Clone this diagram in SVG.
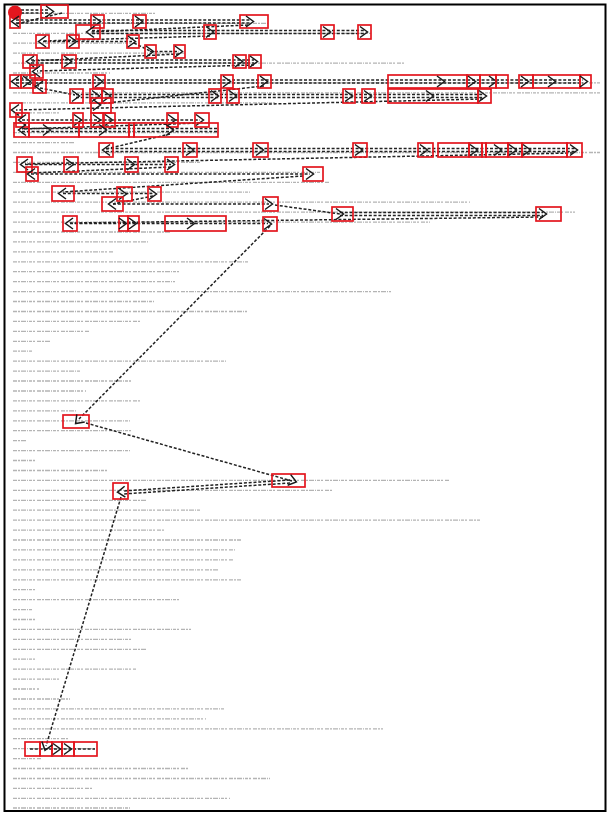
<svg xmlns="http://www.w3.org/2000/svg" width="610" height="814" viewBox="0 0 610 814">
<style>
.b{fill:none;stroke:#e3161e;stroke-width:1.7}
.c{fill:none;stroke:#1a1a1a;stroke-width:1.5;stroke-linejoin:miter}
.k{fill:none;stroke:#222;stroke-width:1.5;stroke-dasharray:3 1.8}
.t{stroke:#b4b4b4;stroke-width:1.3;stroke-dasharray:4 1 2 1 5 1 1 1 3 1 2 2}
</style>
<defs>
<path id="gt" class="c" d="M-4,-5.5 L3.5,0 L-4,5.5"/>
<path id="lt" class="c" d="M4,-5.5 L-3.5,0 L4,5.5"/>
</defs>
<rect x="0" y="0" width="610" height="814" fill="#fff"/>
<rect x="4.5" y="4.5" width="601" height="806.5" fill="none" stroke="#000" stroke-width="2"/>
<g id="text-lines">
<line class="t" x1="13" y1="13.4" x2="155" y2="13.4"/>
<line class="t" x1="13" y1="23.3" x2="268" y2="23.3"/>
<line class="t" x1="13" y1="33.3" x2="372" y2="33.3"/>
<line class="t" x1="13" y1="43.2" x2="140" y2="43.2"/>
<line class="t" x1="13" y1="53.1" x2="186" y2="53.1"/>
<line class="t" x1="13" y1="63.1" x2="405" y2="63.1"/>
<line class="t" x1="13" y1="73.0" x2="110" y2="73.0"/>
<line class="t" x1="13" y1="82.9" x2="600" y2="82.9"/>
<line class="t" x1="13" y1="92.9" x2="600" y2="92.9"/>
<line class="t" x1="13" y1="102.8" x2="276" y2="102.8"/>
<line class="t" x1="13" y1="112.8" x2="60" y2="112.8"/>
<line class="t" x1="13" y1="122.7" x2="210" y2="122.7"/>
<line class="t" x1="13" y1="132.6" x2="218" y2="132.6"/>
<line class="t" x1="13" y1="142.6" x2="75" y2="142.6"/>
<line class="t" x1="13" y1="152.5" x2="600" y2="152.5"/>
<line class="t" x1="13" y1="162.4" x2="200" y2="162.4"/>
<line class="t" x1="13" y1="172.4" x2="320" y2="172.4"/>
<line class="t" x1="13" y1="182.3" x2="330" y2="182.3"/>
<line class="t" x1="13" y1="192.2" x2="250" y2="192.2"/>
<line class="t" x1="13" y1="202.2" x2="470" y2="202.2"/>
<line class="t" x1="13" y1="212.1" x2="575" y2="212.1"/>
<line class="t" x1="13" y1="222.1" x2="430" y2="222.1"/>
<line class="t" x1="13" y1="232.0" x2="171" y2="232.0"/>
<line class="t" x1="13" y1="241.9" x2="148" y2="241.9"/>
<line class="t" x1="13" y1="251.9" x2="113" y2="251.9"/>
<line class="t" x1="13" y1="261.8" x2="249" y2="261.8"/>
<line class="t" x1="13" y1="271.7" x2="181" y2="271.7"/>
<line class="t" x1="13" y1="281.7" x2="175" y2="281.7"/>
<line class="t" x1="13" y1="291.6" x2="391" y2="291.6"/>
<line class="t" x1="13" y1="301.5" x2="154" y2="301.5"/>
<line class="t" x1="13" y1="311.5" x2="247" y2="311.5"/>
<line class="t" x1="13" y1="321.4" x2="140" y2="321.4"/>
<line class="t" x1="13" y1="331.4" x2="89" y2="331.4"/>
<line class="t" x1="13" y1="341.3" x2="51" y2="341.3"/>
<line class="t" x1="13" y1="351.2" x2="33" y2="351.2"/>
<line class="t" x1="13" y1="361.2" x2="226" y2="361.2"/>
<line class="t" x1="13" y1="371.1" x2="80" y2="371.1"/>
<line class="t" x1="13" y1="381.0" x2="132" y2="381.0"/>
<line class="t" x1="13" y1="391.0" x2="86" y2="391.0"/>
<line class="t" x1="13" y1="400.9" x2="140" y2="400.9"/>
<line class="t" x1="13" y1="410.8" x2="76" y2="410.8"/>
<line class="t" x1="13" y1="420.8" x2="130" y2="420.8"/>
<line class="t" x1="13" y1="430.7" x2="132" y2="430.7"/>
<line class="t" x1="13" y1="440.6" x2="27" y2="440.6"/>
<line class="t" x1="13" y1="450.6" x2="130" y2="450.6"/>
<line class="t" x1="13" y1="460.5" x2="37" y2="460.5"/>
<line class="t" x1="13" y1="470.5" x2="107" y2="470.5"/>
<line class="t" x1="13" y1="480.4" x2="449" y2="480.4"/>
<line class="t" x1="13" y1="490.3" x2="333" y2="490.3"/>
<line class="t" x1="13" y1="500.3" x2="146" y2="500.3"/>
<line class="t" x1="13" y1="510.2" x2="200" y2="510.2"/>
<line class="t" x1="13" y1="520.1" x2="480" y2="520.1"/>
<line class="t" x1="13" y1="530.1" x2="165" y2="530.1"/>
<line class="t" x1="13" y1="540.0" x2="241" y2="540.0"/>
<line class="t" x1="13" y1="549.9" x2="235" y2="549.9"/>
<line class="t" x1="13" y1="559.9" x2="233" y2="559.9"/>
<line class="t" x1="13" y1="569.8" x2="218" y2="569.8"/>
<line class="t" x1="13" y1="579.8" x2="241" y2="579.8"/>
<line class="t" x1="13" y1="589.7" x2="37" y2="589.7"/>
<line class="t" x1="13" y1="599.6" x2="181" y2="599.6"/>
<line class="t" x1="13" y1="609.6" x2="33" y2="609.6"/>
<line class="t" x1="13" y1="619.5" x2="37" y2="619.5"/>
<line class="t" x1="13" y1="629.4" x2="191" y2="629.4"/>
<line class="t" x1="13" y1="639.4" x2="132" y2="639.4"/>
<line class="t" x1="13" y1="649.3" x2="146" y2="649.3"/>
<line class="t" x1="13" y1="659.2" x2="37" y2="659.2"/>
<line class="t" x1="13" y1="669.2" x2="136" y2="669.2"/>
<line class="t" x1="13" y1="679.1" x2="60" y2="679.1"/>
<line class="t" x1="13" y1="689.0" x2="39" y2="689.0"/>
<line class="t" x1="13" y1="699.0" x2="70" y2="699.0"/>
<line class="t" x1="13" y1="708.9" x2="224" y2="708.9"/>
<line class="t" x1="13" y1="718.9" x2="206" y2="718.9"/>
<line class="t" x1="13" y1="728.8" x2="383" y2="728.8"/>
<line class="t" x1="13" y1="738.7" x2="68" y2="738.7"/>
<line class="t" x1="13" y1="748.7" x2="95" y2="748.7"/>
<line class="t" x1="13" y1="758.6" x2="41" y2="758.6"/>
<line class="t" x1="13" y1="768.5" x2="189" y2="768.5"/>
<line class="t" x1="13" y1="778.5" x2="270" y2="778.5"/>
<line class="t" x1="13" y1="788.4" x2="93" y2="788.4"/>
<line class="t" x1="13" y1="798.3" x2="230" y2="798.3"/>
<line class="t" x1="13" y1="808.0" x2="130" y2="808.0"/>
</g>
<g id="connectors">
<line class="k" x1="21" y1="10" x2="49" y2="10"/>
<line class="k" x1="21" y1="13" x2="49" y2="13"/>
<line class="k" x1="62" y1="13" x2="16" y2="24"/>
<line class="k" x1="16" y1="20" x2="250" y2="20"/>
<line class="k" x1="16" y1="23" x2="250" y2="23"/>
<line class="k" x1="248" y1="25" x2="91" y2="32"/>
<line class="k" x1="92" y1="30.5" x2="364" y2="30.5"/>
<line class="k" x1="92" y1="33.5" x2="364" y2="33.5"/>
<line class="k" x1="210" y1="36" x2="43" y2="41"/>
<line class="k" x1="43" y1="41.5" x2="132" y2="41.5"/>
<line class="k" x1="134" y1="43" x2="150" y2="51"/>
<line class="k" x1="150" y1="51.5" x2="179" y2="51.5"/>
<line class="k" x1="179" y1="54" x2="31" y2="61"/>
<line class="k" x1="31" y1="60" x2="254" y2="60"/>
<line class="k" x1="31" y1="63" x2="254" y2="63"/>
<line class="k" x1="254" y1="65" x2="37" y2="71"/>
<line class="k" x1="37" y1="74" x2="16" y2="80"/>
<line class="k" x1="16" y1="80" x2="583" y2="80"/>
<line class="k" x1="16" y1="83" x2="583" y2="83"/>
<line class="k" x1="28" y1="84" x2="39" y2="86"/>
<line class="k" x1="40" y1="88" x2="75" y2="95"/>
<line class="k" x1="76" y1="94.5" x2="483" y2="94.5"/>
<line class="k" x1="76" y1="97.5" x2="483" y2="97.5"/>
<line class="k" x1="264" y1="86" x2="98" y2="104"/>
<line class="k" x1="483" y1="99" x2="16" y2="110"/>
<line class="k" x1="16" y1="113" x2="22" y2="119"/>
<line class="k" x1="22" y1="120" x2="200" y2="120"/>
<line class="k" x1="200" y1="123" x2="22" y2="129"/>
<line class="k" x1="22" y1="128.5" x2="218" y2="128.5"/>
<line class="k" x1="22" y1="131.5" x2="218" y2="131.5"/>
<line class="k" x1="170" y1="134" x2="106" y2="149"/>
<line class="k" x1="106" y1="148.5" x2="575" y2="148.5"/>
<line class="k" x1="106" y1="151.5" x2="575" y2="151.5"/>
<line class="k" x1="573" y1="153" x2="25" y2="164"/>
<line class="k" x1="25" y1="164.5" x2="171" y2="164.5"/>
<line class="k" x1="171" y1="167" x2="31" y2="173"/>
<line class="k" x1="31" y1="174" x2="310" y2="174"/>
<line class="k" x1="303" y1="176" x2="63" y2="192"/>
<line class="k" x1="63" y1="193.5" x2="153" y2="193.5"/>
<line class="k" x1="153" y1="196" x2="113" y2="204"/>
<line class="k" x1="113" y1="204" x2="269" y2="204"/>
<line class="k" x1="275" y1="205" x2="340" y2="214"/>
<line class="k" x1="340" y1="212.5" x2="543" y2="212.5"/>
<line class="k" x1="340" y1="215.5" x2="543" y2="215.5"/>
<line class="k" x1="543" y1="217" x2="70" y2="223"/>
<line class="k" x1="70" y1="223.5" x2="268" y2="223.5"/>
<line class="k" x1="270" y1="226" x2="79" y2="419"/>
<line class="k" x1="86" y1="423" x2="292" y2="481"/>
<line class="k" x1="290" y1="480" x2="123" y2="491"/>
<line class="k" x1="290" y1="483" x2="123" y2="494"/>
<line class="k" x1="121" y1="497" x2="46" y2="746"/>
<line class="k" x1="30" y1="749" x2="95" y2="749"/>
</g>
<g id="n-start"><circle cx="15" cy="12.5" r="7" fill="#e3161e"/></g>
<g id="n-a0"><rect class="b" x="41" y="5" width="27" height="13"/><use href="#gt" x="50" y="11.5"/></g>
<g id="n-b1"><rect class="b" x="10" y="15" width="10" height="13"/><use href="#lt" x="15" y="21.5"/></g>
<g id="n-b2"><rect class="b" x="91" y="15" width="13" height="13"/><use href="#gt" x="97" y="21.5"/></g>
<g id="n-b3"><rect class="b" x="133" y="15" width="13" height="13"/><use href="#gt" x="139" y="21.5"/></g>
<g id="n-b4"><rect class="b" x="240" y="15" width="28" height="13"/><use href="#gt" x="250" y="21.5"/></g>
<g id="n-c1"><rect class="b" x="76" y="25" width="24" height="14"/><use href="#lt" x="90" y="32"/></g>
<g id="n-c2"><rect class="b" x="204" y="25" width="12" height="14"/><use href="#gt" x="210" y="32"/></g>
<g id="n-c3"><rect class="b" x="321" y="25" width="13" height="14"/><use href="#gt" x="327" y="32"/></g>
<g id="n-c4"><rect class="b" x="358" y="25" width="13" height="14"/><use href="#gt" x="364" y="32"/></g>
<g id="n-d1"><rect class="b" x="36" y="35" width="13" height="13"/><use href="#lt" x="42" y="41.5"/></g>
<g id="n-d2"><rect class="b" x="67" y="35" width="12" height="13"/><use href="#gt" x="73" y="41.5"/></g>
<g id="n-d3"><rect class="b" x="127" y="35" width="12" height="13"/><use href="#gt" x="132" y="41.5"/></g>
<g id="n-e1"><rect class="b" x="145" y="45" width="11" height="13"/><use href="#gt" x="150" y="51.5"/></g>
<g id="n-e2"><rect class="b" x="174" y="45" width="11" height="13"/><use href="#gt" x="179" y="51.5"/></g>
<g id="n-f1"><rect class="b" x="23" y="55" width="14" height="13"/><use href="#lt" x="30" y="61.5"/></g>
<g id="n-f2"><rect class="b" x="62" y="55" width="14" height="13"/><use href="#gt" x="68" y="61.5"/></g>
<g id="n-f3"><rect class="b" x="233" y="55" width="13" height="13"/><use href="#gt" x="239" y="61.5"/></g>
<g id="n-f4"><rect class="b" x="249" y="55" width="12" height="13"/><use href="#gt" x="254" y="61.5"/></g>
<g id="n-g1"><rect class="b" x="30" y="65" width="13" height="13"/><use href="#lt" x="36" y="71.5"/></g>
<g id="n-h1"><rect class="b" x="10" y="75" width="11" height="13"/><use href="#lt" x="15" y="81.5"/></g>
<g id="n-h2"><rect class="b" x="21" y="75" width="14" height="13"/><use href="#gt" x="27" y="81.5"/></g>
<g id="n-h3"><rect class="b" x="93" y="75" width="12" height="13"/><use href="#gt" x="99" y="81.5"/></g>
<g id="n-h4"><rect class="b" x="221" y="75" width="12" height="13"/><use href="#gt" x="227" y="81.5"/></g>
<g id="n-h5"><rect class="b" x="258" y="75" width="13" height="13"/><use href="#gt" x="264" y="81.5"/></g>
<g id="n-h6"><rect class="b" x="388" y="75" width="79" height="13"/><use href="#gt" x="441" y="81.5"/></g>
<g id="n-h7"><rect class="b" x="467" y="75" width="13" height="13"/><use href="#gt" x="472" y="81.5"/></g>
<g id="n-h8"><rect class="b" x="480" y="75" width="16" height="13"/><use href="#gt" x="493" y="81.5"/></g>
<g id="n-h9"><rect class="b" x="496" y="75" width="12" height="13"/></g>
<g id="n-h10"><rect class="b" x="519" y="75" width="14" height="13"/><use href="#gt" x="525" y="81.5"/></g>
<g id="n-h11"><rect class="b" x="533" y="75" width="47" height="13"/><use href="#gt" x="552" y="81.5"/></g>
<g id="n-h12"><rect class="b" x="580" y="75" width="11" height="13"/><use href="#gt" x="584" y="81.5"/></g>
<g id="n-h13"><rect class="b" x="33" y="80" width="13" height="13"/><use href="#lt" x="39" y="86.5"/></g>
<g id="n-i1"><rect class="b" x="70" y="89" width="13" height="14"/><use href="#gt" x="76" y="96"/></g>
<g id="n-i2"><rect class="b" x="90" y="89" width="12" height="14"/><use href="#gt" x="96" y="96"/></g>
<g id="n-i3"><rect class="b" x="102" y="89" width="11" height="14"/><use href="#gt" x="107" y="96"/></g>
<g id="n-i4"><rect class="b" x="209" y="89" width="12" height="14"/><use href="#gt" x="215" y="96"/></g>
<g id="n-i5"><rect class="b" x="227" y="89" width="12" height="14"/><use href="#gt" x="233" y="96"/></g>
<g id="n-i6"><rect class="b" x="343" y="89" width="12" height="14"/><use href="#gt" x="349" y="96"/></g>
<g id="n-i7"><rect class="b" x="362" y="89" width="13" height="14"/><use href="#gt" x="368" y="96"/></g>
<g id="n-i8"><rect class="b" x="388" y="89" width="90" height="14"/><use href="#gt" x="430" y="96"/></g>
<g id="n-i9"><rect class="b" x="478" y="89" width="13" height="14"/><use href="#gt" x="483" y="96"/></g>
<g id="n-j1"><rect class="b" x="91" y="98" width="20" height="15"/><use href="#gt" x="97" y="105"/></g>
<g id="n-k1"><rect class="b" x="10" y="103" width="12" height="14"/><use href="#lt" x="15" y="110"/></g>
<g id="n-l1"><rect class="b" x="16" y="113" width="13" height="14"/><use href="#lt" x="22" y="120"/></g>
<g id="n-l2"><rect class="b" x="73" y="113" width="10" height="14"/><use href="#gt" x="78" y="120"/></g>
<g id="n-l3"><rect class="b" x="91" y="113" width="12" height="14"/><use href="#gt" x="97" y="120"/></g>
<g id="n-l4"><rect class="b" x="104" y="113" width="11" height="14"/><use href="#gt" x="109" y="120"/></g>
<g id="n-l5"><rect class="b" x="167" y="113" width="11" height="14"/><use href="#gt" x="172" y="120"/></g>
<g id="n-l6"><rect class="b" x="195" y="113" width="14" height="14"/><use href="#gt" x="200" y="120"/></g>
<g id="n-m1"><rect class="b" x="14" y="123" width="15" height="14"/><use href="#lt" x="22" y="130"/></g>
<g id="n-m2"><rect class="b" x="29" y="123" width="50" height="14"/><use href="#gt" x="47" y="130"/></g>
<g id="n-m3"><rect class="b" x="79" y="123" width="50" height="14"/><use href="#gt" x="103" y="130"/></g>
<g id="n-m4"><rect class="b" x="129" y="123" width="5" height="14"/></g>
<g id="n-m5"><rect class="b" x="134" y="123" width="84" height="14"/><use href="#gt" x="170" y="130"/></g>
<g id="n-n1"><rect class="b" x="99" y="143" width="14" height="14"/><use href="#lt" x="106" y="150"/></g>
<g id="n-n2"><rect class="b" x="183" y="143" width="14" height="14"/><use href="#gt" x="190" y="150"/></g>
<g id="n-n3"><rect class="b" x="253" y="143" width="15" height="14"/><use href="#gt" x="260" y="150"/></g>
<g id="n-n4"><rect class="b" x="353" y="143" width="14" height="14"/><use href="#gt" x="359" y="150"/></g>
<g id="n-n5"><rect class="b" x="418" y="143" width="15" height="14"/><use href="#gt" x="424" y="150"/></g>
<g id="n-n6"><rect class="b" x="438" y="143" width="31" height="14"/></g>
<g id="n-n7"><rect class="b" x="469" y="143" width="13" height="14"/><use href="#gt" x="474" y="150"/></g>
<g id="n-n8"><rect class="b" x="482" y="143" width="4" height="14"/></g>
<g id="n-n9"><rect class="b" x="486" y="143" width="22" height="14"/><use href="#gt" x="498" y="150"/></g>
<g id="n-n10"><rect class="b" x="508" y="143" width="14" height="14"/><use href="#gt" x="513" y="150"/></g>
<g id="n-n11"><rect class="b" x="522" y="143" width="45" height="14"/><use href="#gt" x="527" y="150"/></g>
<g id="n-n12"><rect class="b" x="567" y="143" width="15" height="14"/><use href="#gt" x="574" y="150"/></g>
<g id="n-o1"><rect class="b" x="17" y="157" width="15" height="15"/><use href="#lt" x="24" y="164.5"/></g>
<g id="n-o2"><rect class="b" x="64" y="157" width="14" height="15"/><use href="#gt" x="70" y="164.5"/></g>
<g id="n-o3"><rect class="b" x="125" y="157" width="13" height="15"/><use href="#gt" x="131" y="164.5"/></g>
<g id="n-o4"><rect class="b" x="165" y="157" width="13" height="15"/><use href="#gt" x="171" y="164.5"/></g>
<g id="n-p1"><rect class="b" x="26" y="167" width="12" height="14"/><use href="#lt" x="31" y="174"/></g>
<g id="n-p2"><rect class="b" x="303" y="167" width="20" height="14"/><use href="#gt" x="310" y="174"/></g>
<g id="n-q1"><rect class="b" x="52" y="186" width="22" height="15"/><use href="#lt" x="62" y="193.5"/></g>
<g id="n-q2"><rect class="b" x="117" y="187" width="15" height="14"/><use href="#gt" x="123" y="194"/></g>
<g id="n-q3"><rect class="b" x="148" y="187" width="13" height="14"/><use href="#gt" x="153" y="194"/></g>
<g id="n-r1"><rect class="b" x="102" y="197" width="21" height="14"/><use href="#lt" x="112" y="204"/></g>
<g id="n-r2"><rect class="b" x="263" y="197" width="15" height="14"/><use href="#gt" x="269" y="204"/></g>
<g id="n-s1"><rect class="b" x="332" y="207" width="21" height="14"/><use href="#gt" x="340" y="214"/></g>
<g id="n-s2"><rect class="b" x="536" y="207" width="25" height="14"/><use href="#gt" x="543" y="214"/></g>
<g id="n-t1"><rect class="b" x="63" y="216" width="14" height="15"/><use href="#lt" x="69" y="223.5"/></g>
<g id="n-t2"><rect class="b" x="119" y="216" width="9" height="15"/><use href="#gt" x="123" y="223.5"/></g>
<g id="n-t3"><rect class="b" x="128" y="216" width="11" height="15"/><use href="#gt" x="133" y="223.5"/></g>
<g id="n-t4"><rect class="b" x="165" y="216" width="61" height="15"/><use href="#gt" x="191" y="223.5"/></g>
<g id="n-t5"><rect class="b" x="263" y="217" width="14" height="14"/><use href="#gt" x="268" y="224"/></g>
<g id="n-u1"><rect class="b" x="63" y="415" width="26" height="13"/><use href="#gt" transform="translate(78,421) rotate(134)"/></g>
<g id="n-u2"><rect class="b" x="272" y="474" width="33" height="13"/><use href="#gt" transform="translate(293,481) rotate(16)"/></g>
<g id="n-u3"><rect class="b" x="113" y="483" width="15" height="16"/><use href="#gt" transform="translate(121,492) rotate(176)"/></g>
<g id="n-u4"><rect class="b" x="25" y="742" width="15" height="14"/><rect class="b" x="40" y="742" width="12" height="14"/><rect class="b" x="52" y="742" width="10" height="14"/><rect class="b" x="62" y="742" width="12" height="14"/><rect class="b" x="74" y="742" width="23" height="14"/><use href="#gt" transform="translate(46,747) rotate(107)"/><use href="#gt" x="57" y="749"/><use href="#gt" x="68" y="749"/></g>
</svg>
